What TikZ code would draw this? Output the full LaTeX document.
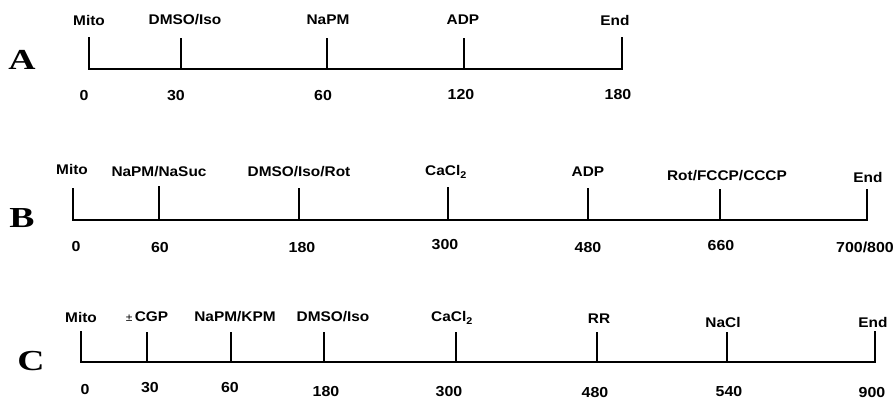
\documentclass[tikz,border=0pt]{standalone}
\usepackage{fontspec}
\setmainfont{Liberation Sans}[FakeStretch=1.1]
\newfontfamily\lblfont{Liberation Sans}[FakeStretch=1.1]
\newfontfamily\numfont{Liberation Sans}[FakeStretch=1.1]
\newfontfamily\panfont{Liberation Serif}[FakeStretch=1.3]
\begin{document}
\begin{tikzpicture}[x=1pt,y=-1pt,
  lbl/.style={inner sep=0pt,font=\lblfont\bfseries\fontsize{14}{16}\selectfont},
  num/.style={inner sep=0pt,font=\numfont\bfseries\fontsize{14.5}{17}\selectfont},
  pan/.style={inner sep=0pt,font=\panfont\bfseries\fontsize{29}{30}\selectfont},
  axis/.style={line width=1.8pt,line cap=rect},
  tk/.style={line width=1.8pt}]
\useasboundingbox (0,0) rectangle (895,400);
% ---------- Panel A ----------
\node[pan] (pA) at (22,60) {A};
\coordinate (a0) at (89,69); \coordinate (a0t) at (89,38);
\coordinate (a1) at (181,69); \coordinate (a1t) at (181,38);
\coordinate (a2) at (327,69); \coordinate (a2t) at (327,38);
\coordinate (a3) at (464,69); \coordinate (a3t) at (464,38);
\coordinate (a4) at (622,69); \coordinate (a4t) at (622,38);
\draw[axis] (a0t) -- (a0) -- (a4) -- (a4t);
\draw[tk] (a1) -- (a1t);
\draw[tk] (a2) -- (a2t);
\draw[tk] (a3) -- (a3t);
\node[lbl] (la0) at (89,20) {Mito};
\node[lbl] (la1) at (185,20) {DMSO/Iso};
\node[lbl] (la2) at (328,20) {NaPM};
\node[lbl] (la3) at (463,20) {ADP};
\node[lbl] (la4) at (615,20) {End};
\node[num] (na0) at (84,96) {0};
\node[num] (na1) at (176,96) {30};
\node[num] (na2) at (323,96) {60};
\node[num] (na3) at (461,95) {120};
\node[num] (na4) at (618,95) {180};
% ---------- Panel B ----------
\node[pan] (pB) at (22,218) {B};
\coordinate (b0) at (73,220); \coordinate (b0t) at (73,189);
\coordinate (b1) at (159,220); \coordinate (b1t) at (159,186);
\coordinate (b2) at (299,220); \coordinate (b2t) at (299,188);
\coordinate (b3) at (448,220); \coordinate (b3t) at (448,187);
\coordinate (b4) at (588,220); \coordinate (b4t) at (588,188);
\coordinate (b5) at (720,220); \coordinate (b5t) at (720,189);
\coordinate (b6) at (867,220); \coordinate (b6t) at (867,190);
\draw[axis] (b0t) -- (b0) -- (b6) -- (b6t);
\draw[tk] (b1) -- (b1t);
\draw[tk] (b2) -- (b2t);
\draw[tk] (b3) -- (b3t);
\draw[tk] (b4) -- (b4t);
\draw[tk] (b5) -- (b5t);
\node[lbl] (lb0) at (72,169) {Mito};
\node[lbl] (lb1) at (159,172) {NaPM/NaSuc};
\node[lbl] (lb2) at (299,172) {DMSO/Iso/Rot};
\node[lbl] (lb3) at (446,172) {CaCl\textsubscript{2}};
\node[lbl] (lb4) at (588,172) {ADP};
\node[lbl] (lb5) at (727,176) {Rot/FCCP/CCCP};
\node[lbl] (lb6) at (868,177) {End};
\node[num] (nb0) at (76,247) {0};
\node[num] (nb1) at (160,248) {60};
\node[num] (nb2) at (302,248) {180};
\node[num] (nb3) at (445,245) {300};
\node[num] (nb4) at (588,248) {480};
\node[num] (nb5) at (721,246) {660};
\node[num] (nb6) at (865,247) {700/800};
% ---------- Panel C ----------
\node[pan] (pC) at (31,361) {C};
\coordinate (c0) at (81,362); \coordinate (c0t) at (81,332);
\coordinate (c1) at (147,362); \coordinate (c1t) at (147,332);
\coordinate (c2) at (231,362); \coordinate (c2t) at (231,332);
\coordinate (c3) at (324,362); \coordinate (c3t) at (324,332);
\coordinate (c4) at (456,362); \coordinate (c4t) at (456,332);
\coordinate (c5) at (597,362); \coordinate (c5t) at (597,332);
\coordinate (c6) at (727,362); \coordinate (c6t) at (727,332);
\coordinate (c7) at (875,362); \coordinate (c7t) at (875,332);
\draw[axis] (c0t) -- (c0) -- (c7) -- (c7t);
\draw[tk] (c1) -- (c1t);
\draw[tk] (c2) -- (c2t);
\draw[tk] (c3) -- (c3t);
\draw[tk] (c4) -- (c4t);
\draw[tk] (c5) -- (c5t);
\draw[tk] (c6) -- (c6t);
\node[lbl] (lc0) at (81,317) {Mito};
\node[lbl] (lc1) at (147,317) {{\mdseries\fontsize{11}{12}\selectfont ±}\,CGP};
\node[lbl] (lc2) at (235,317) {NaPM/KPM};
\node[lbl] (lc3) at (333,317) {DMSO/Iso};
\node[lbl] (lc4) at (452,318) {CaCl\textsubscript{2}};
\node[lbl] (lc5) at (599,319) {RR};
\node[lbl] (lc6) at (723,322) {NaCl};
\node[lbl] (lc7) at (873,322) {End};
\node[num] (nc0) at (85,390) {0};
\node[num] (nc1) at (150,388) {30};
\node[num] (nc2) at (230,388) {60};
\node[num] (nc3) at (326,392) {180};
\node[num] (nc4) at (449,392) {300};
\node[num] (nc5) at (595,393) {480};
\node[num] (nc6) at (729,392) {540};
\node[num] (nc7) at (872,393) {900};
\end{tikzpicture}
\end{document}
